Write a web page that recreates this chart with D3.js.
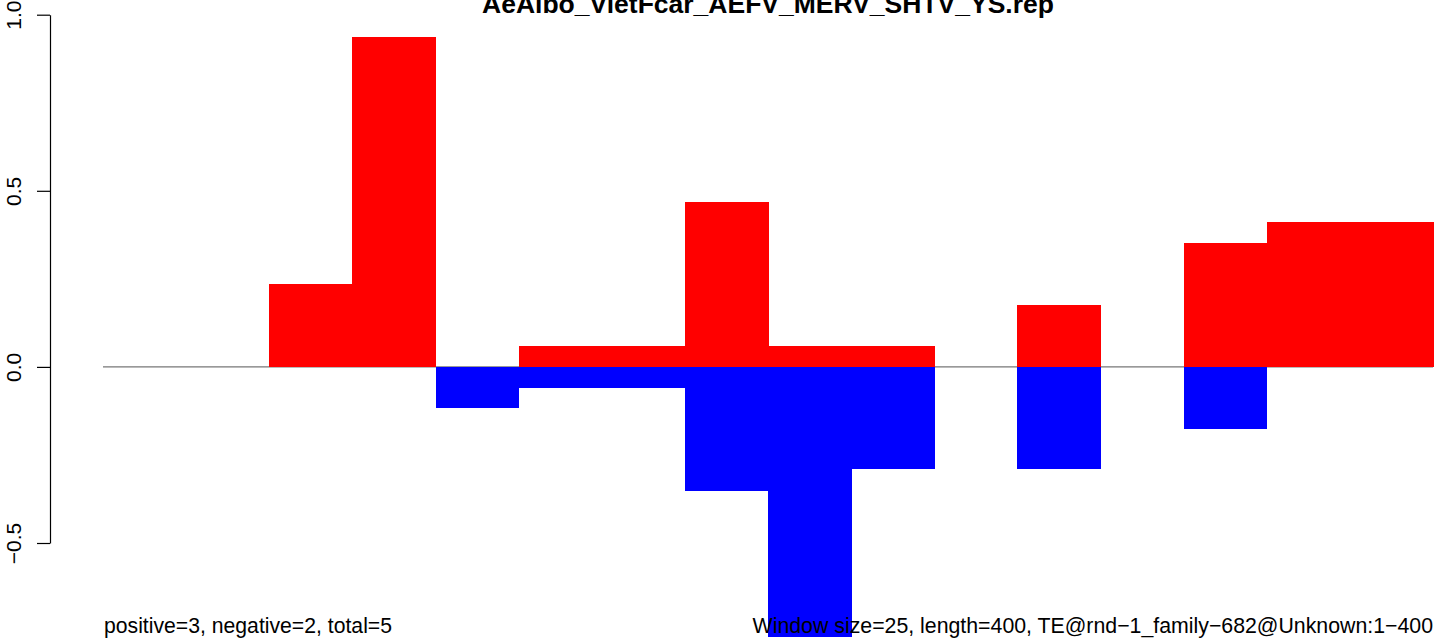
<!DOCTYPE html>
<html>
<head>
<meta charset="utf-8">
<script src="https://cdn.jsdelivr.net/npm/d3@7"></script>
<style>
  html, body { margin: 0; padding: 0; background: #fff; }
  svg { display: block; font-family: "Liberation Sans", Arial, Helvetica, sans-serif; }
</style>
</head>
<body>
<svg id="chart" width="1436" height="641"></svg>
<script>
// ---- data ----
const titleText = "AeAlbo_VietFcar_AEFV_MERV_SHTV_YS.rep";
const windowStarts = [0, 25, 50, 75, 100, 125, 150, 175, 200, 225, 250, 275, 300, 325, 350, 375];
const windowSize = 25;
const seqLength = 400;
const positiveValues = [0, 0, 0.236, 0.936, 0, 0.06, 0.06, 0.468, 0.06, 0.06, 0, 0.176, 0, 0.351, 0.41, 0.41];
const negativeValues = [0, 0, 0, 0, -0.116, -0.059, -0.059, -0.352, -0.767, -0.29, 0, -0.29, 0, -0.176, 0, 0];
const yTicks = [-0.5, 0, 0.5, 1.0];
const leftNote = "positive=3, negative=2, total=5";
const rightNote = "Window size=25, length=400, TE@rnd\u22121_family\u2212682@Unknown:1\u2212400";

// ---- layout ----
const svg = d3.select("#chart");
const x = d3.scaleLinear().domain([0, seqLength]).range([103, 1433]);
const y = d3.scaleLinear().domain([-0.5, 1.0]).range([543, 14.7]);

// zero line
svg.append("line")
  .attr("x1", x(0)).attr("x2", x(seqLength))
  .attr("y1", y(0)).attr("y2", y(0))
  .attr("stroke", "#777777").attr("stroke-width", 1.1);

// positive bars
svg.append("g").attr("shape-rendering", "crispEdges").selectAll("rect")
  .data(windowStarts.map((s, i) => ({ s, v: positiveValues[i] })))
  .join("rect")
  .attr("x", d => x(d.s))
  .attr("width", d => x(d.s + windowSize) - x(d.s) + 0.5)
  .attr("y", d => y(d.v))
  .attr("height", d => y(0) - y(d.v))
  .attr("fill", "#ff0000");

// negative bars
svg.append("g").attr("shape-rendering", "crispEdges").selectAll("rect")
  .data(windowStarts.map((s, i) => ({ s, v: negativeValues[i] })))
  .join("rect")
  .attr("x", d => x(d.s))
  .attr("width", d => x(d.s + windowSize) - x(d.s) + 0.5)
  .attr("y", y(0))
  .attr("height", d => y(d.v) - y(0))
  .attr("fill", "#0000ff");

// y axis
const yAxis = d3.axisLeft(y).tickValues(yTicks).tickFormat(d3.format(".1f")).tickSize(13).tickSizeOuter(0);
const gy = svg.append("g").attr("transform", "translate(50,0)").call(yAxis);
gy.select(".domain").attr("stroke", "#000").attr("stroke-width", 1.2);
gy.selectAll(".tick line").attr("stroke", "#000").attr("stroke-width", 1.2);
gy.selectAll(".tick text")
  .attr("x", null).attr("dy", null)
  .attr("transform", "translate(-29,0) rotate(-90)")
  .attr("text-anchor", "middle")
  .attr("font-size", 21)
  .attr("font-family", "'Liberation Sans', Arial, sans-serif")
  .attr("fill", "#000")
  .text(d => d3.format(".1f")(d).replace("-", "\u2212"));

// title
svg.append("text")
  .attr("x", 768).attr("y", 13)
  .attr("text-anchor", "middle")
  .attr("font-weight", "bold")
  .attr("font-size", 26.5)
  .text(titleText);

// bottom notes
svg.append("text")
  .attr("x", 104).attr("y", 633)
  .attr("font-size", 21.2)
  .text(leftNote);
svg.append("text")
  .attr("x", 1433).attr("y", 633)
  .attr("text-anchor", "end")
  .attr("font-size", 21.3)
  .text(rightNote);
</script>
</body>
</html>
